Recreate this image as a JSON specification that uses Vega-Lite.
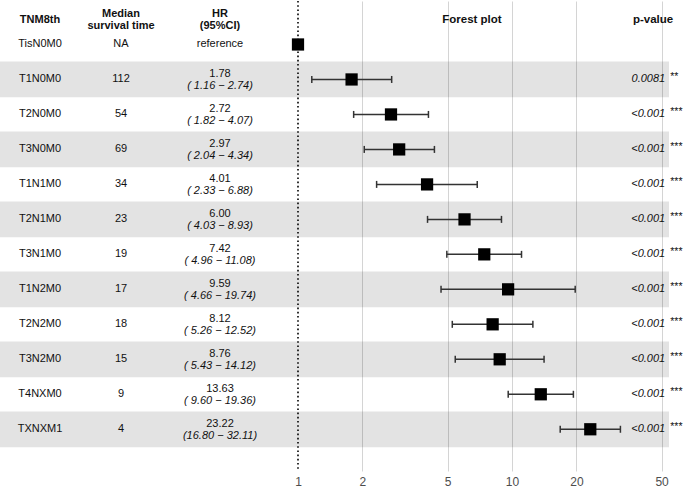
{
  "$schema": "https://vega.github.io/schema/vega-lite/v6.json",
  "padding": 0,
  "config": {
    "view": {"stroke": null},
    "font": "Liberation Sans",
    "text": {"font": "Liberation Sans", "color": "#111111"}
  },
  "datasets": {
    "rows": [
      {"rank": 1, "tnm": "TisN0M0", "median": "NA", "hr": 1, "lo": null, "hi": null, "ci": null, "p": null, "sig": null},
      {"rank": 2, "tnm": "T1N0M0", "median": "112", "hr": 1.78, "lo": 1.16, "hi": 2.74, "ci": "( 1.16 − 2.74)", "p": "0.0081", "sig": "**"},
      {"rank": 3, "tnm": "T2N0M0", "median": "54", "hr": 2.72, "lo": 1.82, "hi": 4.07, "ci": "( 1.82 − 4.07)", "p": "<0.001", "sig": "***"},
      {"rank": 4, "tnm": "T3N0M0", "median": "69", "hr": 2.97, "lo": 2.04, "hi": 4.34, "ci": "( 2.04 − 4.34)", "p": "<0.001", "sig": "***"},
      {"rank": 5, "tnm": "T1N1M0", "median": "34", "hr": 4.01, "lo": 2.33, "hi": 6.88, "ci": "( 2.33 − 6.88)", "p": "<0.001", "sig": "***"},
      {"rank": 6, "tnm": "T2N1M0", "median": "23", "hr": 6.0, "lo": 4.03, "hi": 8.93, "ci": "( 4.03 − 8.93)", "p": "<0.001", "sig": "***"},
      {"rank": 7, "tnm": "T3N1M0", "median": "19", "hr": 7.42, "lo": 4.96, "hi": 11.08, "ci": "( 4.96 − 11.08)", "p": "<0.001", "sig": "***"},
      {"rank": 8, "tnm": "T1N2M0", "median": "17", "hr": 9.59, "lo": 4.66, "hi": 19.74, "ci": "( 4.66 − 19.74)", "p": "<0.001", "sig": "***"},
      {"rank": 9, "tnm": "T2N2M0", "median": "18", "hr": 8.12, "lo": 5.26, "hi": 12.52, "ci": "( 5.26 − 12.52)", "p": "<0.001", "sig": "***"},
      {"rank": 10, "tnm": "T3N2M0", "median": "15", "hr": 8.76, "lo": 5.43, "hi": 14.12, "ci": "( 5.43 − 14.12)", "p": "<0.001", "sig": "***"},
      {"rank": 11, "tnm": "T4NXM0", "median": "9", "hr": 13.63, "lo": 9.6, "hi": 19.36, "ci": "( 9.60 − 19.36)", "p": "<0.001", "sig": "***"},
      {"rank": 12, "tnm": "TXNXM1", "median": "4", "hr": 23.22, "lo": 16.8, "hi": 32.11, "ci": "(16.80 − 32.11)", "p": "<0.001", "sig": "***"}
    ]
  },
  "spacing": 0,
  "hconcat": [
    {
      "width": 80, "height": 470,
      "layer": [
        {
          "data": {"name": "rows"},
          "transform": [{"filter": "datum.rank % 2 == 0"}],
          "mark": {"type": "bar", "orient": "horizontal", "height": 35.74, "color": "#e3e3e3"},
          "encoding": {"y": {"field": "rank", "type": "quantitative", "scale": {"domain": [-0.1, 13.05], "reverse": true, "nice": false, "zero": false}, "axis": null}}
        },
        {
          "data": {"name": "rows"},
          "mark": {"type": "text", "fontSize": 11, "baseline": "middle"},
          "encoding": {
            "y": {"field": "rank", "type": "quantitative", "scale": {"domain": [-0.1, 13.05], "reverse": true, "nice": false, "zero": false}, "axis": null},
            "text": {"field": "tnm"}
          }
        },
        {
          "data": {"values": [{}]},
          "mark": {"type": "text", "fontSize": 11, "fontWeight": "bold", "baseline": "middle", "text": "TNM8th"},
          "encoding": {"y": {"datum": 0.3, "type": "quantitative", "scale": {"domain": [-0.1, 13.05], "reverse": true, "nice": false, "zero": false}, "axis": null}}
        }
      ]
    },
    {
      "width": 82, "height": 470,
      "layer": [
        {
          "data": {"name": "rows"},
          "transform": [{"filter": "datum.rank % 2 == 0"}],
          "mark": {"type": "bar", "orient": "horizontal", "height": 35.74, "color": "#e3e3e3"},
          "encoding": {"y": {"field": "rank", "type": "quantitative", "scale": {"domain": [-0.1, 13.05], "reverse": true, "nice": false, "zero": false}, "axis": null}}
        },
        {
          "data": {"name": "rows"},
          "mark": {"type": "text", "fontSize": 11, "baseline": "middle"},
          "encoding": {
            "y": {"field": "rank", "type": "quantitative", "scale": {"domain": [-0.1, 13.05], "reverse": true, "nice": false, "zero": false}, "axis": null},
            "text": {"field": "median"}
          }
        },
        {
          "data": {"values": [{}]},
          "mark": {"type": "text", "fontSize": 11, "fontWeight": "bold", "baseline": "middle", "lineHeight": 12.5, "dy": -6.25, "text": ["Median", "survival time"]},
          "encoding": {"y": {"datum": 0.3, "type": "quantitative", "scale": {"domain": [-0.1, 13.05], "reverse": true, "nice": false, "zero": false}, "axis": null}}
        }
      ]
    },
    {
      "width": 116, "height": 470,
      "layer": [
        {
          "data": {"name": "rows"},
          "transform": [{"filter": "datum.rank % 2 == 0"}],
          "mark": {"type": "bar", "orient": "horizontal", "height": 35.74, "color": "#e3e3e3"},
          "encoding": {"y": {"field": "rank", "type": "quantitative", "scale": {"domain": [-0.1, 13.05], "reverse": true, "nice": false, "zero": false}, "axis": null}}
        },
        {
          "data": {"name": "rows"},
          "transform": [{"filter": "datum.rank == 1"}],
          "mark": {"type": "text", "fontSize": 11, "baseline": "middle", "text": "reference"},
          "encoding": {
            "y": {"field": "rank", "type": "quantitative", "scale": {"domain": [-0.1, 13.05], "reverse": true, "nice": false, "zero": false}, "axis": null}
          }
        },
        {
          "data": {"name": "rows"},
          "transform": [{"filter": "datum.rank > 1"}],
          "mark": {"type": "text", "fontSize": 11, "baseline": "middle", "dy": -5.5},
          "encoding": {
            "y": {"field": "rank", "type": "quantitative", "scale": {"domain": [-0.1, 13.05], "reverse": true, "nice": false, "zero": false}, "axis": null},
            "text": {"field": "hr", "format": ".2f"}
          }
        },
        {
          "data": {"name": "rows"},
          "transform": [{"filter": "datum.rank > 1"}],
          "mark": {"type": "text", "fontSize": 11, "fontStyle": "italic", "baseline": "middle", "dy": 6.5},
          "encoding": {
            "y": {"field": "rank", "type": "quantitative", "scale": {"domain": [-0.1, 13.05], "reverse": true, "nice": false, "zero": false}, "axis": null},
            "text": {"field": "ci"}
          }
        },
        {
          "data": {"values": [{}]},
          "mark": {"type": "text", "fontSize": 11, "fontWeight": "bold", "baseline": "middle", "lineHeight": 12.5, "dy": -6.25, "text": ["HR", "(95%CI)"]},
          "encoding": {"y": {"datum": 0.3, "type": "quantitative", "scale": {"domain": [-0.1, 13.05], "reverse": true, "nice": false, "zero": false}, "axis": null}}
        }
      ]
    },
    {
      "width": 391, "height": 470,
      "layer": [
        {
          "data": {"name": "rows"},
          "transform": [{"filter": "datum.rank % 2 == 0"}],
          "mark": {"type": "bar", "orient": "horizontal", "height": 35.74, "color": "#000000", "opacity": 0.11},
          "encoding": {"y": {"field": "rank", "type": "quantitative", "scale": {"domain": [-0.1, 13.05], "reverse": true, "nice": false, "zero": false}, "axis": null}}
        },
        {
          "data": {"values": [{}]},
          "mark": {"type": "rule", "color": "#000000", "strokeWidth": 1.6, "strokeDash": [1.6, 2.6]},
          "encoding": {
            "x": {
              "datum": 1, "type": "quantitative",
              "scale": {"type": "log", "domain": [0.8064, 54.16], "nice": false, "zero": false},
              "axis": {
                "values": [1, 2, 5, 10, 20, 50], "format": "d", "title": null,
                "grid": true, "gridColor": "#d4d4d4", "gridWidth": 1,
                "gridOpacity": {"condition": {"test": "datum.value == 1", "value": 0}, "value": 1},
                "domain": false, "ticks": false, "labelPadding": 5,
                "labelFontSize": 12, "labelColor": "#4d4d4d", "labelFont": "Liberation Sans"
              }
            }
          }
        },
        {
          "data": {"name": "rows"},
          "transform": [{"filter": "datum.lo != null"}],
          "mark": {"type": "rule", "color": "#333333", "strokeWidth": 1.5},
          "encoding": {
            "x": {"field": "lo", "type": "quantitative", "scale": {"type": "log", "domain": [0.8064, 54.16], "nice": false, "zero": false}},
            "x2": {"field": "hi"},
            "y": {"field": "rank", "type": "quantitative", "scale": {"domain": [-0.1, 13.05], "reverse": true, "nice": false, "zero": false}, "axis": null}
          }
        },
        {
          "data": {"name": "rows"},
          "transform": [{"filter": "datum.lo != null"}],
          "mark": {"type": "tick", "orient": "vertical", "color": "#333333", "size": 7, "thickness": 1.5, "opacity": 1},
          "encoding": {
            "x": {"field": "lo", "type": "quantitative", "scale": {"type": "log", "domain": [0.8064, 54.16], "nice": false, "zero": false}},
            "y": {"field": "rank", "type": "quantitative", "scale": {"domain": [-0.1, 13.05], "reverse": true, "nice": false, "zero": false}, "axis": null}
          }
        },
        {
          "data": {"name": "rows"},
          "transform": [{"filter": "datum.hi != null"}],
          "mark": {"type": "tick", "orient": "vertical", "color": "#333333", "size": 7, "thickness": 1.5, "opacity": 1},
          "encoding": {
            "x": {"field": "hi", "type": "quantitative", "scale": {"type": "log", "domain": [0.8064, 54.16], "nice": false, "zero": false}},
            "y": {"field": "rank", "type": "quantitative", "scale": {"domain": [-0.1, 13.05], "reverse": true, "nice": false, "zero": false}, "axis": null}
          }
        },
        {
          "data": {"name": "rows"},
          "mark": {"type": "square", "filled": true, "color": "#000000", "size": 150, "opacity": 1},
          "encoding": {
            "x": {"field": "hr", "type": "quantitative", "scale": {"type": "log", "domain": [0.8064, 54.16], "nice": false, "zero": false}},
            "y": {"field": "rank", "type": "quantitative", "scale": {"domain": [-0.1, 13.05], "reverse": true, "nice": false, "zero": false}, "axis": null}
          }
        },
        {
          "data": {"name": "rows"},
          "transform": [{"filter": "datum.p != null"}],
          "mark": {"type": "text", "fontSize": 11, "fontStyle": "italic", "align": "right", "baseline": "middle"},
          "encoding": {
            "x": {"datum": 52, "type": "quantitative", "scale": {"type": "log", "domain": [0.8064, 54.16], "nice": false, "zero": false}},
            "y": {"field": "rank", "type": "quantitative", "scale": {"domain": [-0.1, 13.05], "reverse": true, "nice": false, "zero": false}, "axis": null},
            "text": {"field": "p"}
          }
        },
        {
          "data": {"name": "rows"},
          "transform": [{"filter": "datum.sig != null"}],
          "mark": {"type": "text", "fontSize": 10.5, "align": "left", "baseline": "middle", "dx": 5, "dy": -2.5},
          "encoding": {
            "x": {"datum": 52, "type": "quantitative", "scale": {"type": "log", "domain": [0.8064, 54.16], "nice": false, "zero": false}},
            "y": {"field": "rank", "type": "quantitative", "scale": {"domain": [-0.1, 13.05], "reverse": true, "nice": false, "zero": false}, "axis": null},
            "text": {"field": "sig"}
          }
        },
        {
          "data": {"values": [{}]},
          "mark": {"type": "text", "fontSize": 11.5, "fontWeight": "bold", "baseline": "middle", "text": "Forest plot"},
          "encoding": {
            "x": {"datum": 6.5, "type": "quantitative", "scale": {"type": "log", "domain": [0.8064, 54.16], "nice": false, "zero": false}},
            "y": {"datum": 0.3, "type": "quantitative", "scale": {"domain": [-0.1, 13.05], "reverse": true, "nice": false, "zero": false}, "axis": null}
          }
        },
        {
          "data": {"values": [{}]},
          "mark": {"type": "text", "fontSize": 11.5, "fontWeight": "bold", "baseline": "middle", "text": "p-value"},
          "encoding": {
            "x": {"datum": 45.6, "type": "quantitative", "scale": {"type": "log", "domain": [0.8064, 54.16], "nice": false, "zero": false}},
            "y": {"datum": 0.3, "type": "quantitative", "scale": {"domain": [-0.1, 13.05], "reverse": true, "nice": false, "zero": false}, "axis": null}
          }
        }
      ]
    }
  ]
}
